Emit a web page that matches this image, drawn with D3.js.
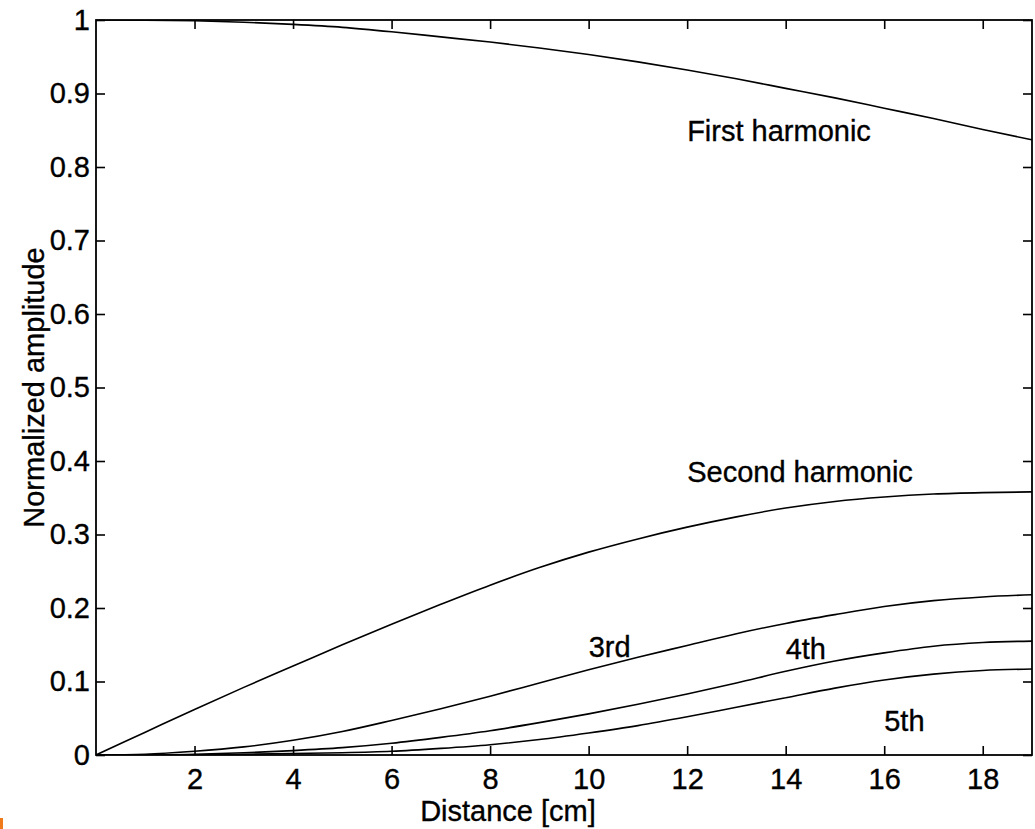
<!DOCTYPE html>
<html>
<head>
<meta charset="utf-8">
<script src="https://cdn.jsdelivr.net/npm/d3@7"></script>
<style>
  html, body { margin: 0; padding: 0; background: #fff; }
  svg { display: block; font-family: "Liberation Sans", Arial, Helvetica, sans-serif; }
  svg text { stroke: #000; stroke-width: 0.35px; }
</style>
</head>
<body>
<svg id="chart" width="1035" height="829"></svg>
<script>
// Distance along the propagation path [cm]
const distance = [0, 1, 2, 3, 4, 5, 6, 7, 8, 9, 10, 11, 12, 13, 14, 15, 16, 17, 18, 19];

// Normalized amplitude of each harmonic
const firstHarmonic  = [1.000, 0.9998, 0.999, 0.997, 0.994, 0.990, 0.984, 0.977, 0.970, 0.962, 0.953, 0.943, 0.932, 0.920, 0.907, 0.894, 0.880, 0.866, 0.851, 0.837];
const secondHarmonic = [0.000, 0.031, 0.062, 0.092, 0.121, 0.150, 0.178, 0.205, 0.231, 0.255, 0.276, 0.294, 0.310, 0.324, 0.336, 0.345, 0.351, 0.355, 0.357, 0.358];
const thirdHarmonic  = [0.000, 0.001, 0.005, 0.011, 0.020, 0.032, 0.047, 0.063, 0.080, 0.098, 0.116, 0.133, 0.149, 0.165, 0.179, 0.191, 0.202, 0.210, 0.215, 0.218];
const fourthHarmonic = [0.000, 0.000, 0.001, 0.003, 0.006, 0.010, 0.016, 0.024, 0.033, 0.044, 0.056, 0.069, 0.083, 0.098, 0.114, 0.128, 0.139, 0.148, 0.153, 0.155];
const fifthHarmonic  = [0.000, 0.000, 0.000, 0.001, 0.002, 0.003, 0.005, 0.009, 0.014, 0.021, 0.030, 0.040, 0.052, 0.065, 0.078, 0.091, 0.102, 0.110, 0.115, 0.117];

// Curve labels with the data point each one sits near
const labelNames = ["First harmonic", "Second harmonic", "3rd", "4th", "5th"];
const labelX     = [12.0, 12.0, 10.0, 14.0, 16.0];
const labelY     = [0.835, 0.372, 0.134, 0.131, 0.032];

// Tick values and their printed labels
const xTicks = [2, 4, 6, 8, 10, 12, 14, 16, 18];
const yTicks = [0, 0.1, 0.2, 0.3, 0.4, 0.5, 0.6, 0.7, 0.8, 0.9, 1];
const yTickLabels = ["0", "0.1", "0.2", "0.3", "0.4", "0.5", "0.6", "0.7", "0.8", "0.9", "1"];

const xTitle = "Distance [cm]";
const yTitle = "Normalized amplitude";

const series = [firstHarmonic, secondHarmonic, thirdHarmonic, fourthHarmonic, fifthHarmonic];

const svg = d3.select("#chart");
const plot = { left: 96, top: 20, right: 1032, bottom: 755 };
const fontSize = 29;

const x = d3.scaleLinear().domain([0, 19]).range([plot.left, plot.right]);
const y = d3.scaleLinear().domain([0, 1]).range([plot.bottom, plot.top]);

// Clip curves to the axes box
svg.append("defs").append("clipPath").attr("id", "plot-clip")
  .append("rect")
  .attr("x", plot.left).attr("y", plot.top)
  .attr("width", plot.right - plot.left).attr("height", plot.bottom - plot.top);

const tickLen = 9;

function styleAxis(g, showText) {
  g.select(".domain").remove();
  g.selectAll(".tick line").attr("stroke", "#000").attr("stroke-width", 1.6);
  g.selectAll(".tick text")
    .attr("fill", "#000")
    .style("font-size", fontSize + "px")
    .style("font-family", "'Liberation Sans', Arial, Helvetica, sans-serif");
  if (!showText) g.selectAll(".tick text").remove();
}

// Bottom axis with labels, ticks pointing inward
svg.append("g")
  .attr("transform", `translate(0,${plot.bottom})`)
  .call(d3.axisBottom(x).tickValues(xTicks).tickFormat(d3.format("d"))
        .tickSizeInner(-tickLen).tickSizeOuter(0).tickPadding(13))
  .call(g => styleAxis(g, true));

// Top axis: ticks only
svg.append("g")
  .attr("transform", `translate(0,${plot.top})`)
  .call(d3.axisTop(x).tickValues(xTicks).tickSizeInner(-tickLen).tickSizeOuter(0))
  .call(g => styleAxis(g, false));

// Left axis with labels
svg.append("g")
  .attr("transform", `translate(${plot.left},0)`)
  .call(d3.axisLeft(y).tickValues(yTicks).tickFormat((d, i) => yTickLabels[i])
        .tickSizeInner(-tickLen).tickSizeOuter(0).tickPadding(6))
  .call(g => styleAxis(g, true));

// Right axis: ticks only
svg.append("g")
  .attr("transform", `translate(${plot.right},0)`)
  .call(d3.axisRight(y).tickValues(yTicks).tickSizeInner(-tickLen).tickSizeOuter(0))
  .call(g => styleAxis(g, false));

// Axes box
svg.append("rect")
  .attr("x", plot.left).attr("y", plot.top)
  .attr("width", plot.right - plot.left).attr("height", plot.bottom - plot.top)
  .attr("fill", "none").attr("stroke", "#000").attr("stroke-width", 1.8);

// Harmonic amplitude curves
const line = d3.line()
  .x((d, i) => x(distance[i]))
  .y(d => y(d))
  .curve(d3.curveMonotoneX);

svg.append("g").attr("clip-path", "url(#plot-clip)")
  .selectAll("path")
  .data(series)
  .join("path")
  .attr("d", line)
  .attr("fill", "none")
  .attr("stroke", "#000")
  .attr("stroke-width", 1.6);

// Curve labels
svg.append("g")
  .selectAll("text")
  .data(labelNames)
  .join("text")
  .attr("x", (d, i) => x(labelX[i]))
  .attr("y", (d, i) => y(labelY[i]))
  .attr("fill", "#000")
  .style("font-size", fontSize + "px")
  .text(d => d);

// Axis titles
svg.append("text")
  .attr("x", 508)
  .attr("y", 821)
  .attr("text-anchor", "middle")
  .attr("fill", "#000")
  .style("font-size", fontSize + "px")
  .text(xTitle);

svg.append("text")
  .attr("transform", `translate(44,${(plot.top + plot.bottom) / 2}) rotate(-90)`)
  .attr("text-anchor", "middle")
  .attr("fill", "#000")
  .style("font-size", fontSize + "px")
  .text(yTitle);

// Small orange corner mark
svg.append("rect")
  .attr("x", 0).attr("y", 818).attr("width", 3).attr("height", 11)
  .attr("fill", "#f07a1a");
</script>
</body>
</html>
